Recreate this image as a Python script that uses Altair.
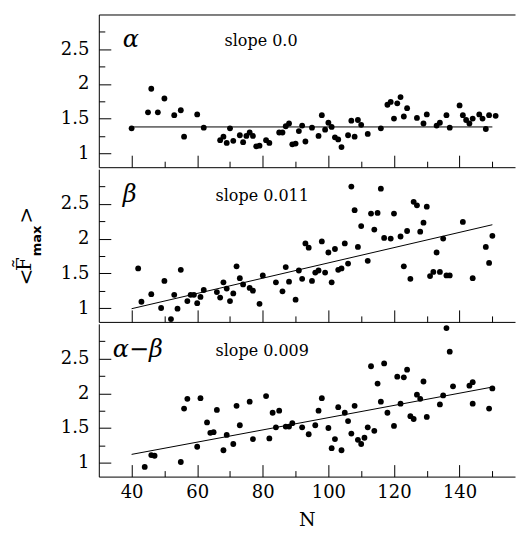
import altair as alt
import pandas as pd

# ---------------- data ----------------
N_alpha = [40, 45, 46, 48, 50, 53, 55, 56, 60, 62, 67, 68, 69, 70, 71, 73, 74, 75, 76, 77,
           78, 79, 81, 82, 85, 86, 87, 88, 89, 90, 91, 92, 93, 95, 97, 98, 99, 100, 101, 102,
           103, 104, 106, 107, 108, 109, 110, 112, 116, 118, 119, 120, 121, 122, 123, 124, 127, 129, 130, 133,
           134, 136, 137, 140, 141, 142, 143, 144, 146, 147, 148, 149, 151]
F_alpha = [1.36, 1.59, 1.93, 1.59, 1.79, 1.55, 1.62, 1.24, 1.56, 1.37, 1.19, 1.24, 1.15, 1.36, 1.18, 1.26, 1.16, 1.25, 1.30, 1.25,
           1.10, 1.11, 1.19, 1.15, 1.30, 1.30, 1.39, 1.43, 1.13, 1.14, 1.32, 1.40, 1.17, 1.37, 1.25, 1.55, 1.34, 1.44, 1.38, 1.23,
           1.20, 1.09, 1.26, 1.47, 1.24, 1.48, 1.41, 1.28, 1.36, 1.70, 1.74, 1.50, 1.72, 1.81, 1.53, 1.65, 1.51, 1.43, 1.56, 1.40,
           1.44, 1.55, 1.37, 1.69, 1.55, 1.48, 1.43, 1.50, 1.56, 1.50, 1.35, 1.55, 1.54]

N_beta = [42, 43, 46, 49, 50, 52, 53, 54, 55, 57, 58, 59, 60, 61, 62, 66, 67, 68, 69, 70,
          71, 72, 73, 74, 76, 77, 79, 80, 84, 86, 87, 88, 90, 91, 92, 93, 94, 95, 96, 97,
          98, 99, 100, 101, 102, 103, 104, 105, 106, 107, 108, 109, 110, 112, 113, 114, 115, 116, 117, 119,
          120, 122, 123, 124, 125, 126, 127, 128, 129, 130, 131, 132, 133, 134, 135, 136, 137, 141, 144, 148,
          149, 150]
F_beta = [1.57, 1.09, 1.20, 1.00, 1.39, 0.84, 1.19, 0.99, 1.55, 1.10, 1.19, 1.19, 1.07, 1.16, 1.26, 1.23, 1.15, 1.37, 1.28, 1.10,
          1.21, 1.60, 1.43, 1.34, 1.29, 1.25, 1.06, 1.47, 1.37, 1.24, 1.59, 1.38, 1.12, 1.54, 1.42, 1.93, 1.87, 1.39, 1.51, 1.54,
          1.96, 1.51, 1.80, 1.37, 1.85, 1.55, 1.57, 1.93, 1.64, 2.75, 2.41, 1.88, 2.18, 1.68, 2.36, 2.13, 2.37, 2.72, 2.01, 2.00,
          2.36, 2.03, 1.60, 2.11, 1.42, 2.53, 2.48, 2.10, 2.23, 2.46, 1.46, 1.52, 1.80, 1.52, 2.00, 1.47, 1.47, 2.24, 1.43, 1.88,
          1.65, 2.04]

N_ab = [44, 46, 47, 55, 56, 57, 60, 61, 63, 64, 65, 66, 68, 69, 71, 72, 73, 76, 77, 81,
        82, 83, 84, 85, 87, 88, 89, 92, 94, 96, 97, 98, 100, 101, 102, 103, 104, 105, 106, 107,
        108, 109, 110, 111, 112, 113, 114, 115, 116, 117, 118, 120, 121, 122, 123, 124, 125, 126, 127, 128,
        129, 130, 134, 135, 136, 137, 138, 143, 144, 144, 149, 150]
F_ab = [0.94, 1.11, 1.10, 1.01, 1.78, 1.92, 1.23, 1.93, 1.58, 1.43, 1.44, 1.76, 1.18, 1.40, 1.27, 1.82, 1.54, 1.88, 1.34, 1.96,
        1.35, 1.72, 1.51, 1.75, 1.52, 1.52, 1.57, 1.51, 1.41, 1.54, 1.75, 1.93, 1.50, 1.21, 1.34, 1.80, 1.18, 1.72, 1.60, 1.42,
        1.82, 1.33, 1.27, 1.36, 1.51, 2.39, 1.46, 2.14, 1.88, 2.43, 1.72, 1.53, 2.24, 1.85, 2.23, 2.34, 1.67, 1.63, 1.98, 1.92,
        2.17, 1.66, 1.84, 1.97, 2.94, 2.60, 2.10, 2.11, 2.16, 1.85, 1.78, 2.07]

fit_N = [40, 150]
fit_alpha = [1.38, 1.38]
fit_beta = [0.99, 2.20]
fit_ab = [1.12, 2.09]

panel_names = ["α", "β", "α−β"]
slope_texts = ["slope 0.0", "slope 0.011", "slope 0.009"]
x_major = [40, 60, 80, 100, 120, 140]
x_minor = [50, 70, 90, 110, 130, 150]
y_major = [1, 1.5, 2, 2.5]
y_minor = [1.25, 1.75, 2.25, 2.75]
title_parts = ["<", "F̃", "max", ">"]

# ---------------- layout ----------------
W, H = 417, 153
XDOM = [30, 156.9]
YDOM = [0.8, 3.0]
FONT = "DejaVu Serif"


def panel(N, F, fitv, name, slope, name_x, slope_x, first=False, last=False, ytitle=False):
    pts = pd.DataFrame({"N": N, "F": F})
    fit = pd.DataFrame({"N": fit_N, "F": fitv})
    xs = alt.Scale(domain=XDOM, nice=False, zero=False)
    ys = alt.Scale(domain=YDOM, nice=False, zero=False)

    ax_x_major = alt.Axis(orient="bottom", values=x_major, offset=-12, tickSize=12, domain=False,
                          grid=False, labels=last, labelFont=FONT, labelFontSize=18, labelPadding=7,
                          title=None)
    ax_y_major = alt.Axis(orient="left", values=y_major, offset=-12, tickSize=12, domain=False,
                          grid=False, labelFont=FONT, labelFontSize=18, labelPadding=10,
                          format="~g", title=None)
    ax_x_minor = alt.Axis(orient="bottom", values=x_minor, offset=-6, tickSize=6, domain=False,
                          grid=False, labels=False, title=None)
    ax_y_minor = alt.Axis(orient="left", values=y_minor, offset=-6, tickSize=6, domain=False,
                          grid=False, labels=False, title=None)
    ax_x_frame = alt.Axis(orient="bottom", domain=True, ticks=False, labels=False, grid=False,
                          title="N" if last else None, titleFont=FONT, titleFontSize=19,
                          titleFontWeight="normal", titlePadding=34)
    ax_y_frame = alt.Axis(orient="left", domain=True, ticks=False, labels=False, grid=False, title=None)

    points = alt.Chart(pts).mark_circle(size=34, color="black", opacity=1).encode(
        x=alt.X("N:Q", scale=xs, axis=ax_x_major),
        y=alt.Y("F:Q", scale=ys, axis=ax_y_major),
    )
    line = alt.Chart(fit).mark_line(color="black", strokeWidth=1).encode(
        x=alt.X("N:Q", scale=xs, axis=ax_x_minor),
        y=alt.Y("F:Q", scale=ys, axis=ax_y_minor),
    )
    frame = alt.Chart(fit).mark_point(opacity=0).encode(
        x=alt.X("N:Q", scale=xs, axis=ax_x_frame),
        y=alt.Y("F:Q", scale=ys, axis=ax_y_frame),
    )
    label = alt.Chart(pd.DataFrame({"t": [name]})).mark_text(
        font=FONT, fontSize=24, fontStyle="italic", align="left", baseline="alphabetic", color="black"
    ).encode(x=alt.value(name_x), y=alt.value(33), text="t:N")
    stext = alt.Chart(pd.DataFrame({"t": [slope]})).mark_text(
        font=FONT, fontSize=16, align="left", baseline="alphabetic", color="black"
    ).encode(x=alt.value(slope_x), y=alt.value(32), text="t:N")

    layers = [points, line, frame, label, stext]
    if first:
        top = alt.Chart(fit).mark_point(opacity=0).encode(
            x=alt.X("N:Q", scale=xs, axis=alt.Axis(orient="top", domain=True, ticks=False,
                                                   labels=False, grid=False, title=None)),
        )
        layers.append(top)
    if ytitle:
        tdf = pd.DataFrame({"t": title_parts})
        lt = alt.Chart(tdf.iloc[[0]]).mark_text(font=FONT, fontSize=20, angle=270, align="center",
                                               baseline="middle", color="black").encode(
            x=alt.value(-72), y=alt.value(108), text="t:N")
        ft = alt.Chart(tdf.iloc[[1]]).mark_text(font=FONT, fontSize=20, angle=270, align="center",
                                               baseline="middle", color="black").encode(
            x=alt.value(-74), y=alt.value(95), text="t:N")
        mt = alt.Chart(tdf.iloc[[2]]).mark_text(font="DejaVu Sans", fontSize=13, fontWeight="bold",
                                               angle=270, align="center", baseline="middle",
                                               color="black").encode(
            x=alt.value(-62), y=alt.value(72), text="t:N")
        gt = alt.Chart(tdf.iloc[[3]]).mark_text(font=FONT, fontSize=20, angle=270, align="center",
                                               baseline="middle", color="black").encode(
            x=alt.value(-72), y=alt.value(46), text="t:N")
        layers += [lt, ft, mt, gt]

    return alt.layer(*layers).resolve_axis(x="independent", y="independent").properties(width=W, height=H)


p1 = panel(N_alpha, F_alpha, fit_alpha, panel_names[0], slope_texts[0], 24, 126, first=True)
p2 = panel(N_beta, F_beta, fit_beta, panel_names[1], slope_texts[1], 24, 117, ytitle=True)
p3 = panel(N_ab, F_ab, fit_ab, panel_names[2], slope_texts[2], 14, 117, last=True)

chart = alt.vconcat(p1, p2, p3, spacing=0).properties(
    padding={"left": 14, "top": 13, "right": 0, "bottom": 6}
).configure_view(stroke="transparent").configure_axis(
    domainColor="black", tickColor="black", labelColor="black", titleColor="black",
    domainWidth=1, tickWidth=1
)

chart.save("out.html", embed_options={"renderer": "svg", "actions": False})
